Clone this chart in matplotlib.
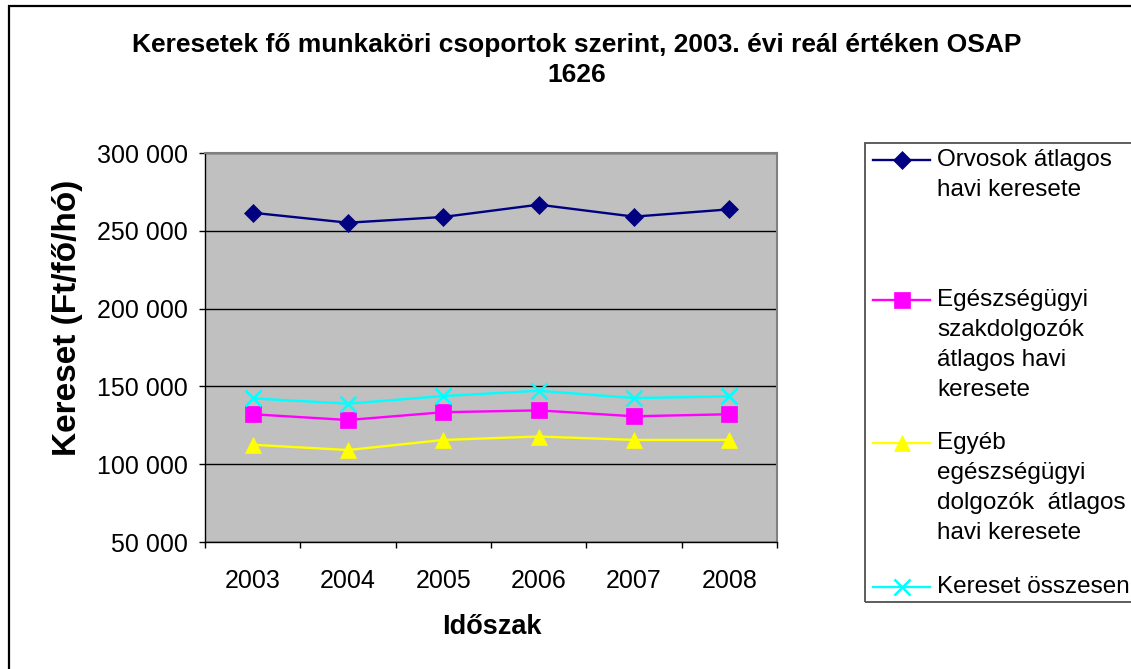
import matplotlib
matplotlib.use("Agg")
import matplotlib.pyplot as plt
from matplotlib.lines import Line2D
from matplotlib.patches import Rectangle
from matplotlib.ticker import FuncFormatter, FixedLocator

plt.rcParams['font.family'] = ['Liberation Sans', 'DejaVu Sans']

years = ['2003', '2004', '2005', '2006', '2007', '2008']
orvosok = [261600, 255200, 258900, 266800, 259100, 263800]
szakdolgozok = [132100, 128400, 133400, 134600, 130800, 132100]
egyeb = [112500, 109100, 115600, 117800, 115600, 115600]
osszesen = [142300, 138900, 143800, 147200, 142500, 143600]

labels = ['Orvosok átlagos\nhavi keresete',
          'Egészségügyi\nszakdolgozók\nátlagos havi\nkeresete',
          'Egyéb\negészségügyi\ndolgozók  átlagos\nhavi keresete',
          'Kereset összesen']
title = 'Keresetek fő munkaköri csoportok szerint, 2003. évi reál értéken OSAP\n1626'
ylabel = 'Kereset (Ft/fő/hó)'
xlabel = 'Időszak'

W, H = 1131, 669
fig = plt.figure(figsize=(W / 100, H / 100), dpi=100)

def fx(px):
    return px / W

def fy(py):
    return 1 - py / H

ax = fig.add_axes([fx(205), fy(542), fx(777) - fx(205), fy(153) - fy(542)])
ax.set_facecolor('#C0C0C0')

series = [
    (orvosok, '#000080', 'D', 9),
    (szakdolgozok, '#FF00FF', 's', 11),
    (egyeb, '#FFFF00', '^', 11),
    (osszesen, '#00FFFF', 'x', 11),
]
x = list(range(len(years)))
for vals, col, mk, ms in series:
    ax.plot(x, vals, color=col, lw=1.7, marker=mk, markersize=ms,
            markeredgewidth=1.8 if mk == 'x' else 0.5, markeredgecolor=col,
            markerfacecolor=col, zorder=3, clip_on=False)

ax.set_ylim(50000, 300000)
ax.set_xlim(-0.5, len(years) - 0.5)
ax.set_yticks(range(50000, 300001, 50000))
ax.yaxis.set_major_formatter(FuncFormatter(lambda v, p: f'{int(v):,}'.replace(',', ' ')))
ax.grid(axis='y', color='black', lw=1)
ax.set_axisbelow(True)

ax.xaxis.set_major_locator(FixedLocator([i - 0.5 for i in range(len(years) + 1)]))
ax.xaxis.set_minor_locator(FixedLocator(x))
ax.set_xticklabels([], minor=False)
ax.set_xticklabels(years, minor=True)
ax.tick_params(axis='x', which='major', length=4.5, width=1, direction='out')
ax.tick_params(axis='x', which='minor', length=0, labelsize=18, pad=19.5)
ax.tick_params(axis='y', length=4.5, width=1, direction='out', labelsize=18, pad=8)

for s in ['left', 'bottom']:
    ax.spines[s].set_color('black')
    ax.spines[s].set_linewidth(1)
for s in ['top', 'right']:
    ax.spines[s].set_color('#808080')
    ax.spines[s].set_linewidth(1.5)

fig.text(fx(577), fy(60), title, ha='center', va='center', fontsize=19,
         fontweight='bold', linespacing=1.3)
fig.text(fx(68), fy(318), ylabel, ha='center', va='center', rotation=90,
         fontsize=24, fontweight='bold')
fig.text(fx(492), fy(627), xlabel, ha='center', va='center', fontsize=19.5,
         fontweight='bold')

# outer chart border (extends past right and bottom edges)
fig.add_artist(Rectangle((fx(8.5), fy(720)), fx(1250), fy(5.5) - fy(720),
                         transform=fig.transFigure, fill=False, ec='black', lw=1.6))

# legend box (right side beyond the image)
fig.add_artist(Rectangle((fx(865), fy(602)), fx(1160) - fx(865), fy(143) - fy(602),
                         transform=fig.transFigure, fill=False, ec='#505050', lw=1.3))
entry_y = [160, 300, 443, 587]
for (vals, col, mk, ms), lab, ey in zip(series, labels, entry_y):
    fig.add_artist(Line2D([fx(873), fx(930)], [fy(ey), fy(ey)], transform=fig.transFigure,
                          color=col, lw=1.7))
    fig.add_artist(Line2D([fx(901.5)], [fy(ey)], transform=fig.transFigure, color=col,
                          marker=mk, markersize=ms,
                          markeredgewidth=1.8 if mk == 'x' else 0.5,
                          markeredgecolor=col, markerfacecolor=col, lw=0))
    for i, line in enumerate(lab.split('\n')):
        fig.text(fx(937), fy(ey + 30 * i), line, ha='left', va='center', fontsize=17.5)

fig.savefig('out.png', dpi=100)
